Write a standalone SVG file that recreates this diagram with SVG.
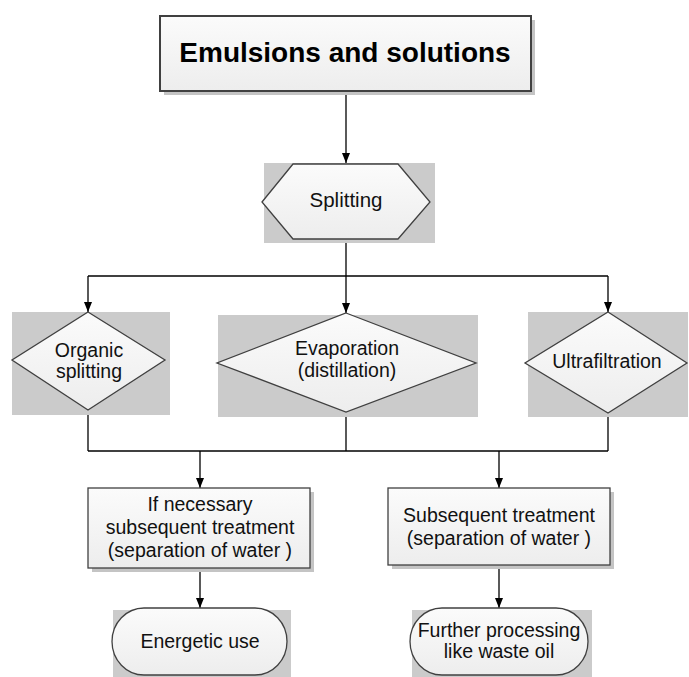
<svg xmlns="http://www.w3.org/2000/svg" width="689" height="677" viewBox="0 0 689 677">
<defs>
<linearGradient id="fillg" x1="0" y1="0" x2="0" y2="1">
<stop offset="0" stop-color="#fbfbfb"/>
<stop offset="1" stop-color="#ededed"/>
</linearGradient>
<marker id="arr" viewBox="0 0 10 10" refX="10" refY="5" markerWidth="10" markerHeight="10" markerUnits="userSpaceOnUse" orient="auto">
<path d="M0,1 L10,5 L0,9 Z" fill="#000"/>
</marker>
<style>
.shape{fill:url(#fillg);stroke:#404040;stroke-width:1.3}
.bg{fill:#cbcbcb}
.sh{fill:#c4c4c4}
.t{font-family:"Liberation Sans",Arial,sans-serif;font-size:19.5px;fill:#111;text-anchor:middle}
.title{font-family:"Liberation Sans",Arial,sans-serif;font-size:28px;font-weight:bold;fill:#000;text-anchor:middle}
.c{fill:none;stroke:#000;stroke-width:1.3}
</style>
</defs>
<rect width="689" height="677" fill="#fff"/>

<g id="connectors">
<line class="c" x1="346" y1="92" x2="346" y2="163" marker-end="url(#arr)"/>
<line class="c" x1="346" y1="239" x2="346" y2="276"/>
<line class="c" x1="88" y1="276" x2="608" y2="276"/>
<line class="c" x1="88" y1="276" x2="88" y2="312" marker-end="url(#arr)"/>
<line class="c" x1="346" y1="276" x2="346" y2="313" marker-end="url(#arr)"/>
<line class="c" x1="608" y1="276" x2="608" y2="312" marker-end="url(#arr)"/>
<line class="c" x1="88" y1="410" x2="88" y2="451"/>
<line class="c" x1="346" y1="412" x2="346" y2="451"/>
<line class="c" x1="608" y1="413" x2="608" y2="451"/>
<line class="c" x1="88" y1="451" x2="608" y2="451"/>
<line class="c" x1="200" y1="451" x2="200" y2="488" marker-end="url(#arr)"/>
<line class="c" x1="499" y1="451" x2="499" y2="488" marker-end="url(#arr)"/>
<line class="c" x1="200" y1="568" x2="200" y2="608" marker-end="url(#arr)"/>
<line class="c" x1="499" y1="565" x2="499" y2="608" marker-end="url(#arr)"/>
</g>

<g id="title">
<rect class="sh" x="164" y="20" width="371" height="75"/>
<rect class="shape" x="160" y="16" width="371" height="75" style="stroke-width:2"/>
<text class="title" x="345" y="62">Emulsions and solutions</text>
</g>

<g id="splitting">
<rect class="bg" x="264" y="163" width="171" height="80"/>
<polygon class="shape" points="262,202 293,164 398,164 430,202 398,239 293,239"/>
<text class="t" x="346" y="207" style="font-size:20.5px">Splitting</text>
</g>

<g id="organic">
<rect class="bg" x="12" y="312" width="158" height="103"/>
<polygon class="shape" points="88,312 165,360 88,410 12,360"/>
<text class="t" x="89" y="357">Organic</text>
<text class="t" x="89" y="378">splitting</text>
</g>

<g id="evaporation">
<rect class="bg" x="218" y="315" width="260" height="102"/>
<polygon class="shape" points="346,313 476,363 346,412 217,363"/>
<text class="t" x="347" y="355">Evaporation</text>
<text class="t" x="347" y="377">(distillation)</text>
</g>

<g id="ultrafiltration">
<rect class="bg" x="528" y="312" width="160" height="105"/>
<polygon class="shape" points="608,312 687,363 608,413 525,363"/>
<text class="t" x="607" y="368">Ultrafiltration</text>
</g>

<g id="if-necessary">
<rect class="sh" x="92" y="492" width="222" height="80"/>
<rect class="shape" x="88" y="488" width="222" height="80"/>
<text class="t" x="200" y="511">If necessary</text>
<text class="t" x="200" y="534">subsequent treatment</text>
<text class="t" x="200" y="557">(separation of water )</text>
</g>

<g id="subsequent">
<rect class="sh" x="392" y="492" width="222" height="77"/>
<rect class="shape" x="388" y="488" width="222" height="77"/>
<text class="t" x="499" y="522">Subsequent treatment</text>
<text class="t" x="499" y="545">(separation of water )</text>
</g>

<g id="energetic">
<rect class="bg" x="113" y="610" width="178" height="67"/>
<rect class="shape" x="112" y="608" width="175" height="67" rx="32" ry="33.5"/>
<text class="t" x="200" y="648">Energetic use</text>
</g>

<g id="further">
<rect class="bg" x="412" y="610" width="180" height="67"/>
<rect class="shape" x="410" y="608" width="178" height="67" rx="32" ry="33.5"/>
<text class="t" x="499" y="637">Further processing</text>
<text class="t" x="499" y="658">like waste oil</text>
</g>
</svg>
